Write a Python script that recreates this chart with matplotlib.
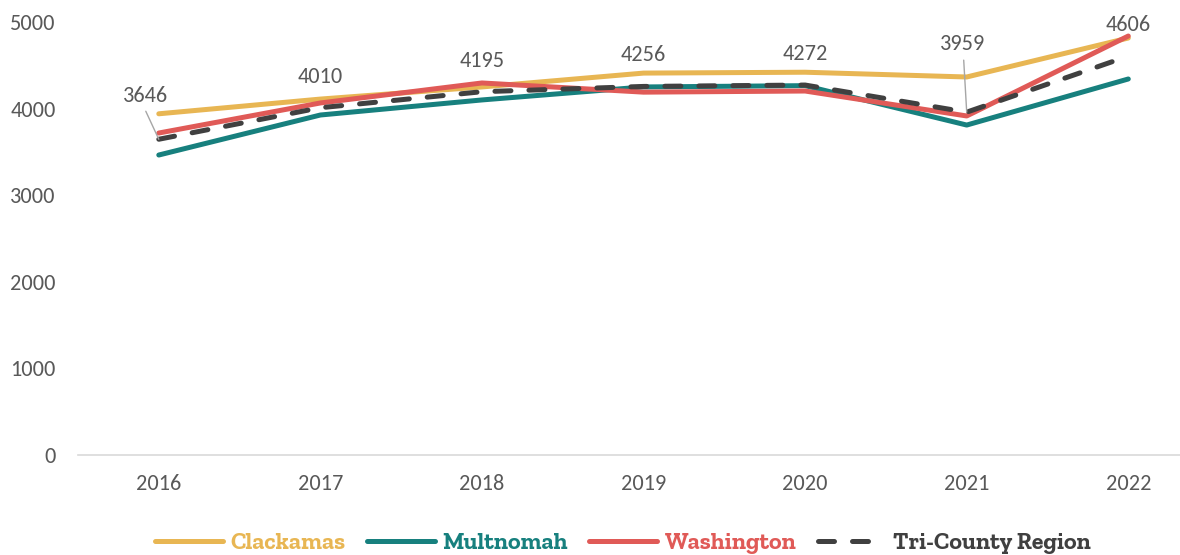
import matplotlib.pyplot as plt

years = ['2016', '2017', '2018', '2019', '2020', '2021', '2022']
clackamas = [3940, 4110, 4250, 4410, 4420, 4365, 4815]
multnomah = [3464, 3926, 4100, 4250, 4265, 3810, 4342]
washington = [3718, 4065, 4296, 4190, 4203, 3915, 4838]
tri_county = [3646, 4010, 4195, 4256, 4272, 3959, 4606]

c_clack = '#E8B653'
c_mult = '#17807E'
c_wash = '#E05A57'
c_tri = '#404040'
txt = '#595959'
num_font = ['Carlito', 'DejaVu Sans']
leg_font = ['Roboto Slab', 'Zilla Slab', 'DejaVu Serif']

fig = plt.figure(figsize=(11.8, 5.55), dpi=100)
fig.patch.set_facecolor('white')
ax = fig.add_axes([78 / 1180, 1 - 455 / 555, 1 - 78 / 1180, (455 - 22) / 555])

x = list(range(len(years)))
ax.plot(x, clackamas, color=c_clack, lw=3.6, solid_capstyle='round', label='Clackamas')
ax.plot(x, multnomah, color=c_mult, lw=3.6, solid_capstyle='round', label='Multnomah')
ax.plot(x, washington, color=c_wash, lw=3.6, solid_capstyle='round', label='Washington')
ax.plot(x, tri_county, color=c_tri, lw=3.6, linestyle=(0, (3.2, 3.6)),
        dash_capstyle='round', label='Tri-County Region')

# data labels for the region line
for i, v in enumerate(tri_county):
    if i == 0:
        dx, dy = -13, 43
    elif i == 5:
        dx, dy = -4, 68
    else:
        dx, dy = 0, 31
    ax.annotate(str(v), xy=(i, v), xytext=(dx, dy), textcoords='offset pixels',
                ha='center', va='center', fontsize=16, color=txt, family=num_font)
    if i == 0:
        ax.annotate('', xy=(i, v), xytext=(-13, 28), textcoords='offset pixels',
                    arrowprops=dict(arrowstyle='-', color='#A6A6A6', lw=1,
                                    shrinkA=0, shrinkB=0))
    if i == 5:
        ax.annotate('', xy=(i, v), xytext=(-3, 52), textcoords='offset pixels',
                    arrowprops=dict(arrowstyle='-', color='#A6A6A6', lw=1,
                                    shrinkA=0, shrinkB=0))

ax.set_xlim(-0.5, 6.32)
ax.set_ylim(0, 5000)
ax.set_yticks([0, 1000, 2000, 3000, 4000, 5000])
ax.set_xticks(x)
ax.set_xticklabels(years)
for s in ['top', 'right', 'left']:
    ax.spines[s].set_visible(False)
ax.spines['bottom'].set_color('#D9D9D9')
ax.spines['bottom'].set_linewidth(1.2)
ax.tick_params(axis='both', length=0, labelsize=16, labelcolor=txt)
ax.tick_params(axis='y', pad=16)
ax.tick_params(axis='x', pad=14)
for lab in ax.get_xticklabels() + ax.get_yticklabels():
    lab.set_family(num_font)

leg = fig.legend(loc='center', bbox_to_anchor=(0.528, 1 - 543 / 555), ncol=4,
                 frameon=False, handlelength=2.85, handletextpad=0.3,
                 columnspacing=0.9,
                 prop=dict(family=leg_font, weight='bold', size=17.2))
for t, c in zip(leg.get_texts(), [c_clack, c_mult, c_wash, c_tri]):
    t.set_color(c)

plt.savefig('out.png', dpi=100, facecolor='white')
plt.close()
